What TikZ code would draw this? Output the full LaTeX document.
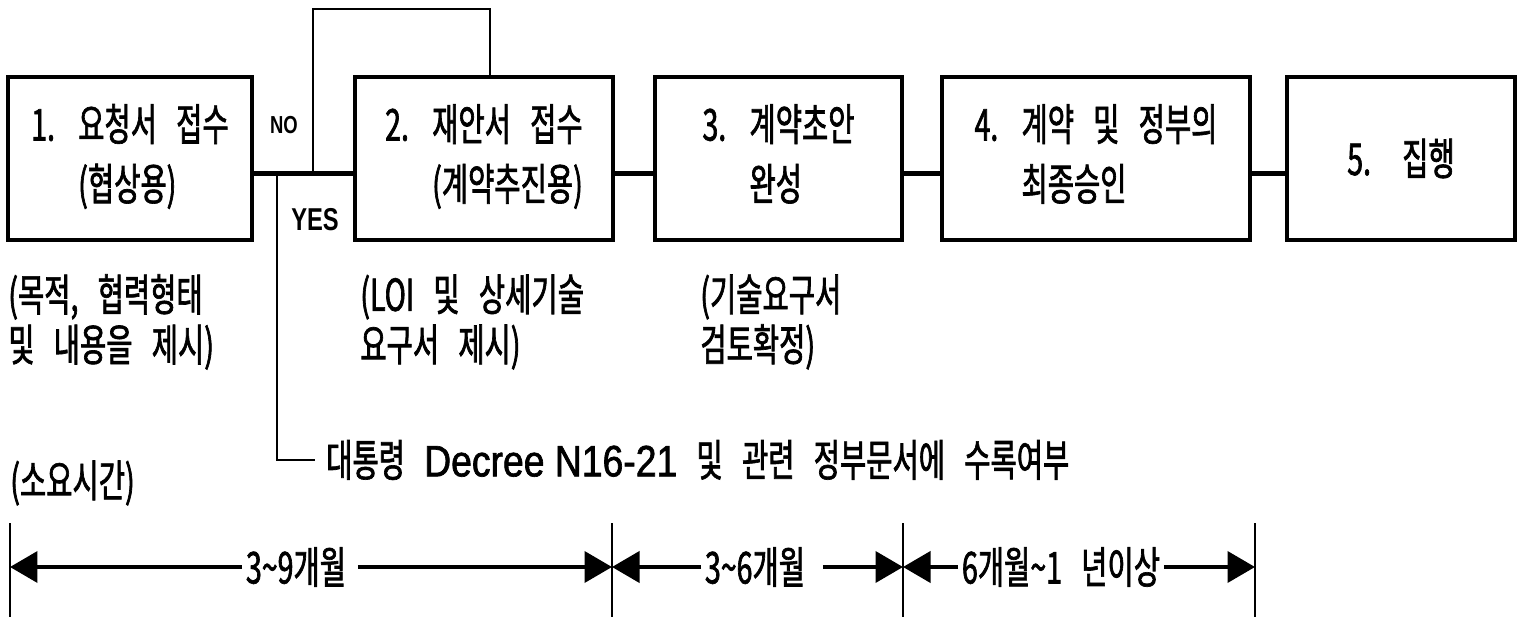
\documentclass[tikz,border=0pt]{standalone}
\usepackage{fontspec}
\setmainfont{Noto Sans CJK KR}[FakeStretch=0.65,WordSpace=3,FakeBold=1.5]
\newfontfamily\latfont{Liberation Sans}[FakeStretch=0.85,FakeBold=1.5]
\newfontfamily\flagfont{Liberation Sans}[FakeStretch=0.75]
\usetikzlibrary{arrows.meta}

\newcommand{\steptext}[3]{\begin{tabular}{@{}p{0.94cm}@{}l@{}}#1 & #2\\ & #3\end{tabular}}

\begin{document}
\begin{tikzpicture}[x=0.02cm,y=-0.02cm, every node/.style={font=\fontsize{25pt}{34pt}\selectfont},
    stepbox/.style={draw,line width=2pt,minimum height=3.26cm,inner sep=0pt},
    notetext/.style={anchor=west,align=left,inner sep=0pt,font=\fontsize{25pt}{28.5pt}\selectfont},
    link/.style={line width=2.8pt},
    spanarrow/.style={line width=2.2pt,-{Triangle[length=0.55cm,width=0.62cm]}},
    tickline/.style={line width=1.1pt}]

    \useasboundingbox (0,0) rectangle (1533,617);

    %===========================
    % Steps
    %===========================
    \draw node (B1) at (130,158.5) [stepbox,minimum width=4.88cm]{\steptext{1.}{요청서 접수}{(협상용)}};
    \draw node (B2) at (484,158.5) [stepbox,minimum width=5.16cm]{\steptext{2.}{재안서 접수}{(계약추진용)}};
    \draw node (B3) at (778.5,158.5) [stepbox,minimum width=4.94cm]{\steptext{3.}{계약초안}{완성}};
    \draw node (B4) at (1096,158.5) [stepbox,minimum width=6.16cm]{\steptext{4.}{계약 및 정부의}{최종승인}};
    \draw node (B5) at (1401,158.5) [stepbox,minimum width=4.56cm]{\makebox[1.1cm][l]{5.}집행};

    \draw[link] ([yshift=-0.3cm]B1.east) to ([yshift=-0.3cm]B2.west);
    \draw[link] ([yshift=-0.3cm]B2.east) to ([yshift=-0.3cm]B3.west);
    \draw[link] ([yshift=-0.3cm]B3.east) to ([yshift=-0.3cm]B4.west);
    \draw[link] ([yshift=-0.3cm]B4.east) to ([yshift=-0.3cm]B5.west);

    % NO / YES
    \coordinate (J) at (313,173);
    \coordinate (Y) at (277,173);
    \coordinate (Ltop) at (313,9);
    \draw[line width=1.4pt] (J) -- (Ltop) -| ([xshift=0.12cm]B2.north);
    \node (NOlbl) at (284,125) {\flagfont\bfseries\fontsize{14pt}{14pt}\selectfont NO};
    \node (YESlbl) at (315,220) {\flagfont\bfseries\fontsize{18pt}{18pt}\selectfont YES};

    \node (Decree) at (320,460) [anchor=west] {대통령 {\latfont Decree N16-21} 및 관련 정부문서에 수록여부};
    \draw[line width=0.9pt, shorten >=0.1cm] (Y) |- (Decree.west);

    % Notes
    \node (N1) at (8,322) [notetext] {(목적, 협력형태\\및 내용을 제시)};
    \node (N2) at (360,322) [notetext] {(LOI 및 상세기술\\요구서 제시)};
    \node (N3) at (700,322) [notetext] {(기술요구서\\검토확정)};


    %===========================
    % Time
    %===========================
    \node (Period) at (10,483) [anchor=west,inner sep=0pt] {(소요시간)};

    \draw[tickline] (10,523) -- (10,617);
    \draw[tickline] (612,523) -- (612,617);
    \draw[tickline] (903,523) -- (903,617);
    \draw[tickline] (1255,523) -- (1255,617);
    \coordinate (K0) at (10,567);
    \coordinate (K1) at (612,567);
    \coordinate (K2) at (903,567);
    \coordinate (K3) at (1255,567);

    \node (T1) at (296,567) [inner sep=2pt] {3\textasciitilde9개월};
    \draw[spanarrow] (T1.west) to (K0);
    \draw[spanarrow,shorten <=0.16cm] (T1.east) to (K1);

    \node (T2) at (755,567) [inner sep=2pt] {3\textasciitilde6개월};
    \draw[spanarrow] (T2.west) to (K1);
    \draw[spanarrow,shorten <=0.28cm] (T2.east) to (K2);

    \node (T3) at (1061,567) [inner sep=2pt] {6개월\textasciitilde1 년이상};
    \draw[spanarrow] (T3.west) to (K2);
    \draw[spanarrow] (T3.east) to (K3);
\end{tikzpicture}
\end{document}
